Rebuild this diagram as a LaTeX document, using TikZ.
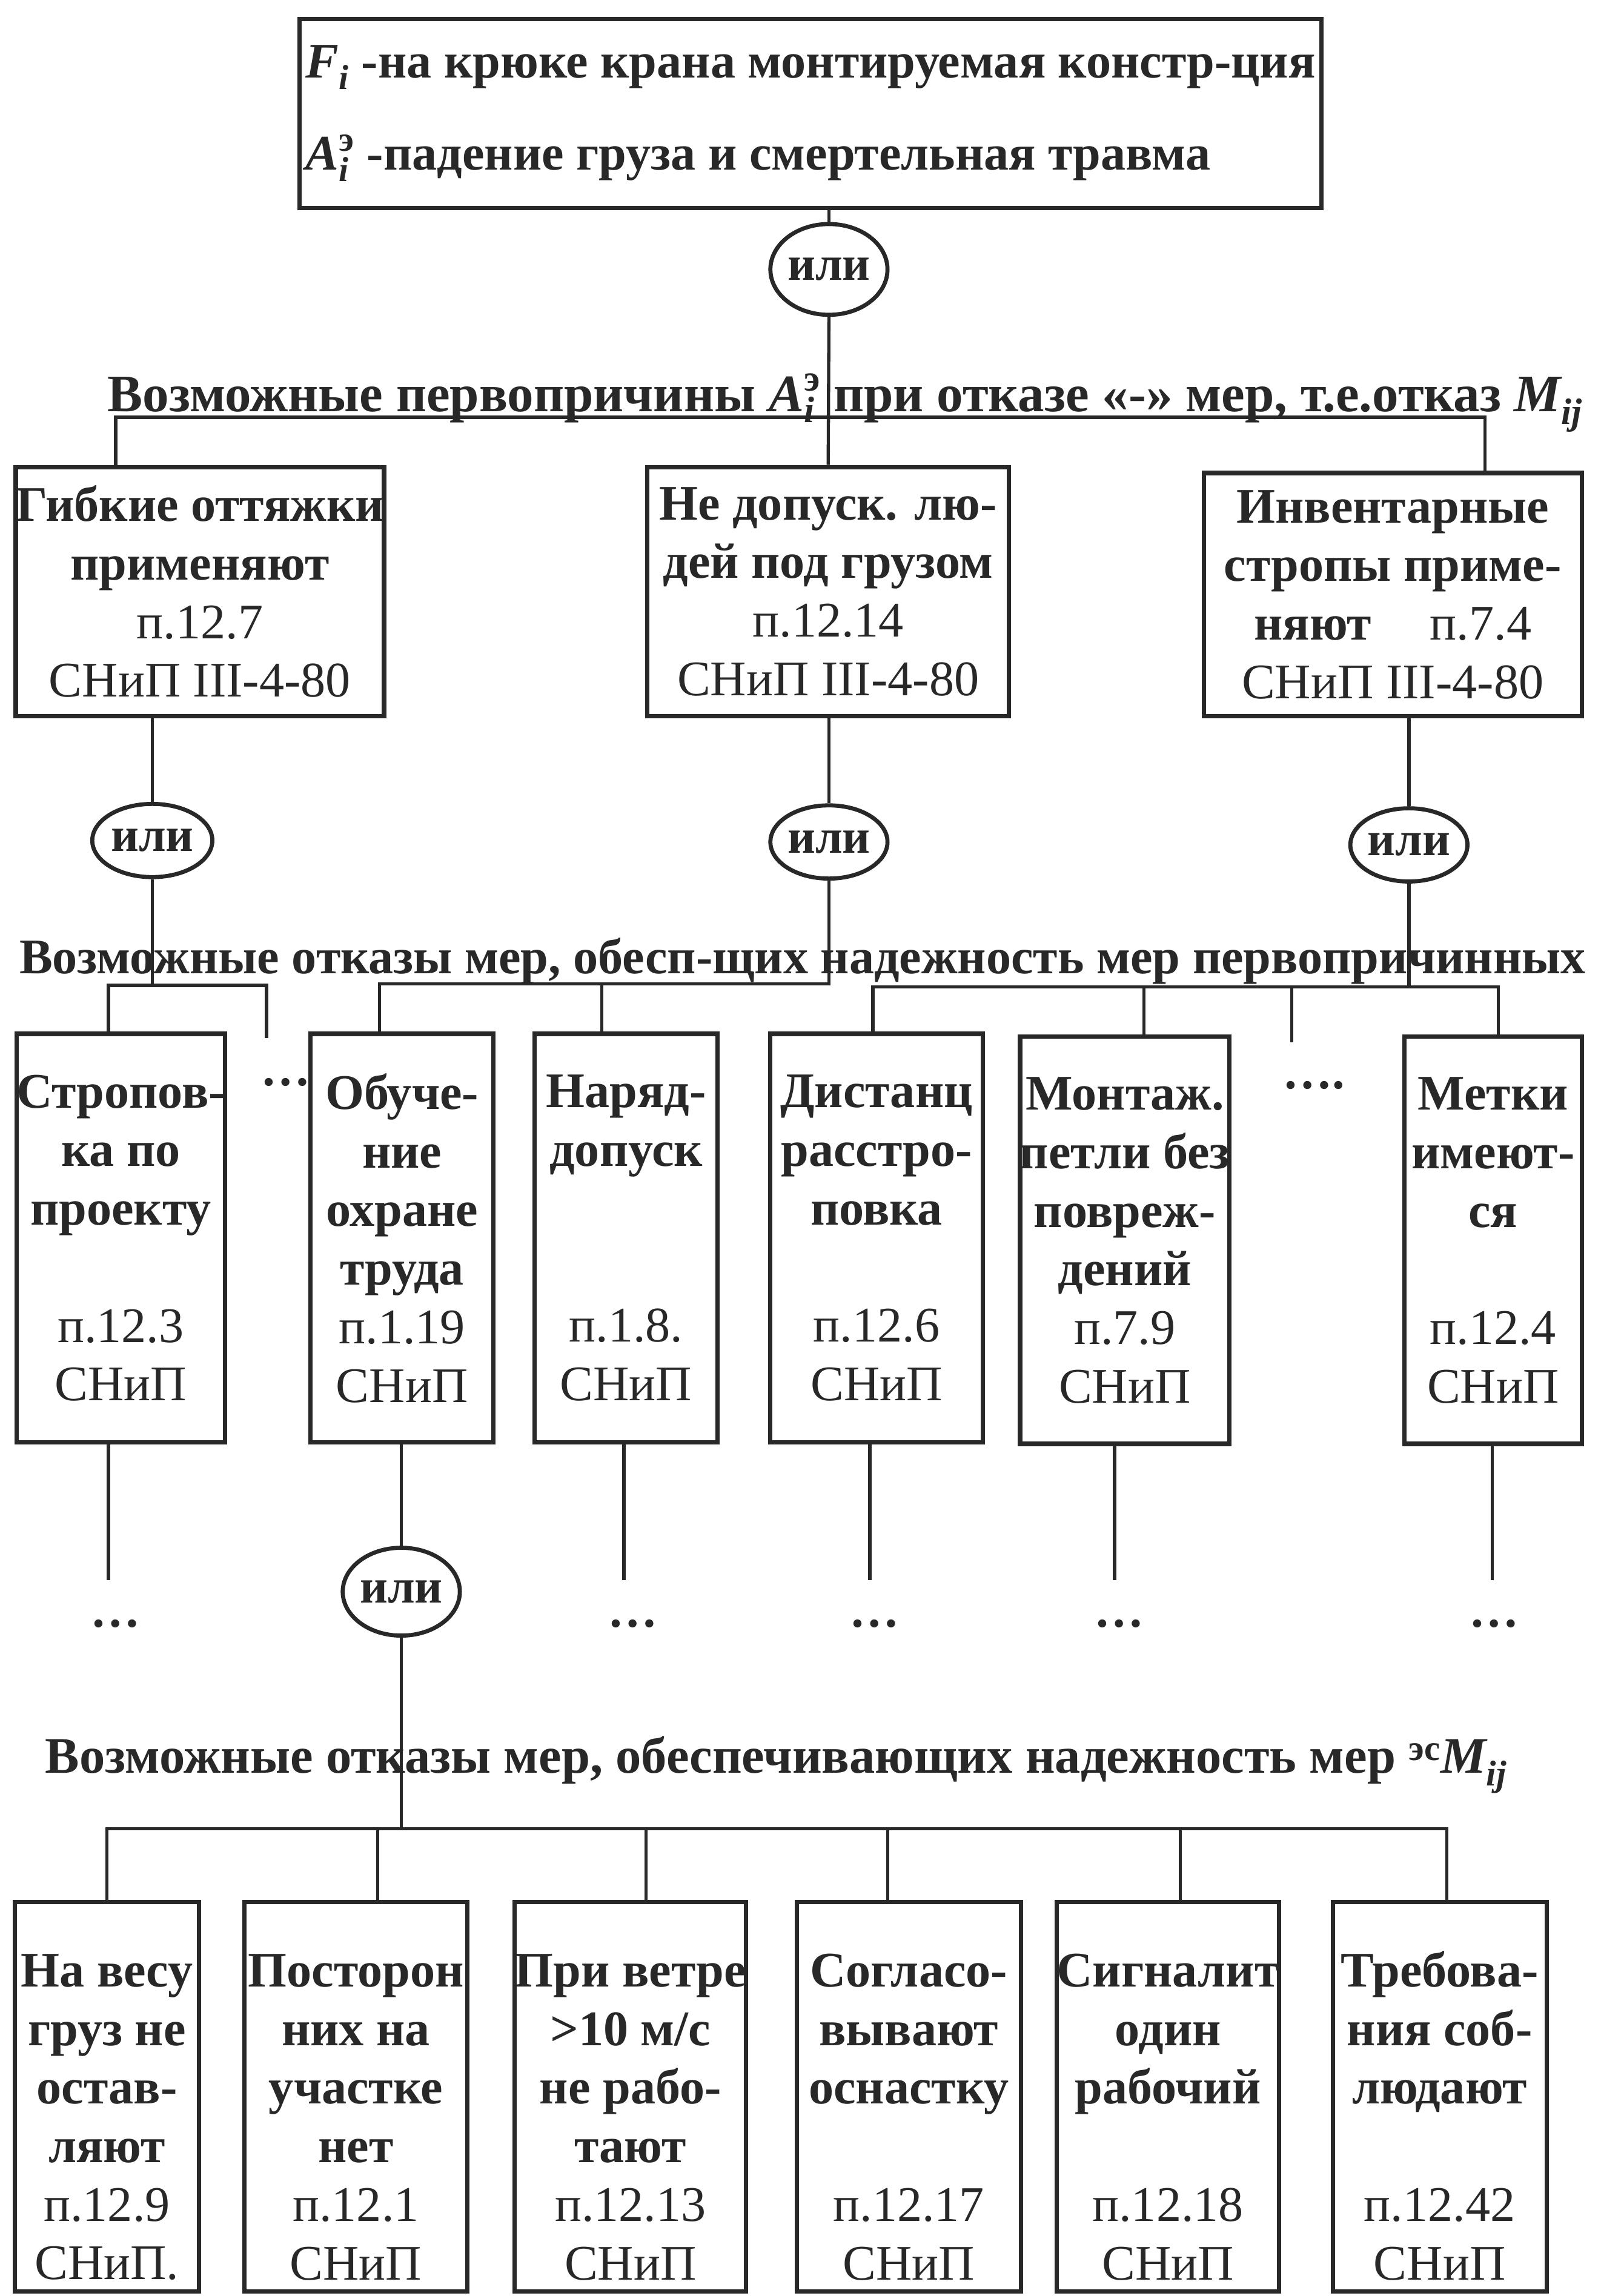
\documentclass[tikz,border=0pt]{standalone}
\usepackage{fontspec}
\usepackage{amsmath}
\setmainfont{Liberation Serif}
\usetikzlibrary{shapes.geometric}

\definecolor{ink}{RGB}{40,40,40}
\newcommand{\refl}[1]{\textmd{#1}}
\newcommand{\Aie}{$\textit{A}_{\textit{i}}^{\text{э}}$}
\newcommand{\Mij}{$\textit{M}_{\textit{ij}}$}
\newcommand{\lowstrut}{\rule{0pt}{50pt}}

\tikzset{every picture/.style={line width=2.2pt}}
\tikzset{
  bx/.style={draw=ink, line width=3pt, text=ink, align=center, inner xsep=0pt, inner ysep=2pt, font=\fontsize{34}{40}\selectfont\bfseries},
  orgate/.style={ellipse, draw=ink, line width=2.8pt, text=ink, inner sep=0pt, font=\fontsize{33}{40}\selectfont\bfseries},
  headtext/.style={text=ink, anchor=base, inner sep=0pt, font=\fontsize{34}{40}\selectfont\bfseries},
  dotstext/.style={text=ink, inner sep=0pt, font=\fontsize{34}{40}\selectfont\bfseries},
  conn/.style={draw=ink, line width=2.2pt}
}

\begin{document}
\begin{tikzpicture}[x=1pt,y=1pt,yscale=-1]
\useasboundingbox[fill=white] (0,0) rectangle (1093,1568);

%Shape: Rectangle
\node[bx, align=left, inner xsep=4pt, minimum width=691pt, minimum height=129pt] (top) at (553.5,77.5) {$\textit{F}_{\textit{i}}$ -на крюке крана монтируемая констр-ция\\[23pt]\Aie{} -падение груза и смертельная травма};

%Flowchart: Or
\node[orgate, minimum width=78pt, minimum height=62pt] (or0) at (566,184) {или};

% Text Node
\node[headtext, font=\fontsize{36}{40}\selectfont\bfseries] (hd1) at (577,281) {Возможные первопричины \Aie{} при отказе «-» мер, т.е.отказ \Mij};

%Shape: Rectangle
\node[bx, minimum width=249pt, minimum height=170pt] (b1) at (136.5,404) {Гибкие оттяжки\\применяют\\\refl{п.12.7}\\\refl{СНиП III-4-80}};
\node[bx, minimum width=247pt, minimum height=170pt] (b2) at (565.5,404) {Не допуск. лю-\\дей под грузом\\\refl{п.12.14}\\\refl{СНиП III-4-80}};
\node[bx, minimum width=258pt, minimum height=166pt] (b3) at (951,406) {Инвентарные\\стропы приме-\\няют\hspace{40pt}\refl{п.7.4}\\\refl{СНиП III-4-80}};

%Flowchart: Or
\node[orgate, minimum width=82pt, minimum height=50pt] (or1) at (104,574) {или};
\node[orgate, minimum width=76pt, minimum height=50pt] (or2) at (566,575) {или};
\node[orgate, minimum width=76pt, minimum height=50pt] (or3) at (962,577) {или};

% Text Node
\node[headtext] (hd2) at (548,665) {Возможные отказы мер, обесп-щих надежность мер первопричинных};

%Shape: Rectangle
\node[bx, minimum width=141pt, minimum height=279pt] (c1) at (82.5,845.5) {Стропов-\\ка по\\проекту\\[40pt]\refl{п.12.3}\\\refl{СНиП}};
\node[bx, minimum width=125pt, minimum height=279pt] (c2) at (274.5,845.5) {Обуче-\\ние\\охране\\труда\\\refl{п.1.19}\\\refl{СНиП}};
\node[bx, minimum width=125pt, minimum height=279pt] (c3) at (427.5,845.5) {Наряд-\\допуск\\[80pt]\refl{п.1.8.}\\\refl{СНиП}};
\node[bx, minimum width=145pt, minimum height=279pt] (c4) at (598.5,845.5) {Дистанц\\расстро-\\повка\\[40pt]\refl{п.12.6}\\\refl{СНиП}};
\node[bx, minimum width=142pt, minimum height=278pt] (c5) at (768,847) {Монтаж.\\петли без\\повреж-\\дений\\\refl{п.7.9}\\\refl{СНиП}};
\node[bx, minimum width=121pt, minimum height=278pt] (c6) at (1019.5,847) {Метки\\имеют-\\ся\\[40pt]\refl{п.12.4}\\\refl{СНиП}};

% Text Node
\node[dotstext] (dt0) at (195,739) {…};
\node[dotstext] (dt1) at (897,741) {….};
\node[dotstext] (dt2) at (79,1109) {…};
\node[dotstext] (dt3) at (432,1109) {…};
\node[dotstext] (dt4) at (597,1109) {…};
\node[dotstext] (dt5) at (764,1109) {…};
\node[dotstext] (dt6) at (1020,1109) {…};

%Flowchart: Or
\node[orgate, minimum width=79pt, minimum height=60pt] (or4) at (274,1087) {или};

% Text Node
\node[headtext, font=\fontsize{35}{40}\selectfont\bfseries] (hd3) at (530,1211) {Возможные отказы мер, обеспечивающих надежность мер ${}^{\text{эс}}$\Mij};

%Shape: Rectangle
\node[bx, minimum width=126pt, minimum height=266pt] (f1) at (73,1432) {\lowstrut На весу\\груз не\\остав-\\ляют\\\refl{п.12.9}\\\refl{СНиП.}};
\node[bx, minimum width=152pt, minimum height=266pt] (f2) at (243,1432) {\lowstrut Посторон\\них на\\участке\\нет\\\refl{п.12.1}\\\refl{СНиП}};
\node[bx, minimum width=157pt, minimum height=266pt] (f3) at (430.5,1432) {\lowstrut При ветре\\>10 м/с\\не рабо-\\тают\\\refl{п.12.13}\\\refl{СНиП}};
\node[bx, minimum width=153pt, minimum height=266pt] (f4) at (620.5,1432) {\lowstrut Согласо-\\вывают\\оснастку\\[40pt]\refl{п.12.17}\\\refl{СНиП}};
\node[bx, minimum width=141pt, minimum height=266pt] (f5) at (797.5,1432) {\lowstrut Сигналит\\один\\рабочий\\[40pt]\refl{п.12.18}\\\refl{СНиП}};
\node[bx, minimum width=146pt, minimum height=266pt] (f6) at (983,1432) {\lowstrut Требова-\\ния соб-\\людают\\[40pt]\refl{п.12.42}\\\refl{СНиП}};

%Junctions
\coordinate (j0w) at (79,285);
\coordinate (j0e) at (1014,285);
\coordinate (j1w) at (74,673);
\coordinate (j1e) at (182,673);
\coordinate (s1) at (182,709);
\coordinate (j2w) at (259,672);
\coordinate (j2b) at (411,672);
\coordinate (j3w) at (596,674);
\coordinate (j3b) at (781,674);
\coordinate (j3c) at (882,674);
\coordinate (s2) at (882,712);
\coordinate (j3e) at (1023,674);
\coordinate (e1) at (74,1079);
\coordinate (e3) at (426,1079);
\coordinate (e4) at (594,1079);
\coordinate (e5) at (761,1079);
\coordinate (e6) at (1019,1079);
\coordinate (j4w) at (73,1249);
\coordinate (j4e) at (988,1249);

%Straight Lines
\draw[conn] (top.south -| or0) -- (or0.north);
\draw[conn] (or0.south) -- (b2.north);
\draw[conn] (j0w |- b1.north) -- (j0w) -- (j0e) -- (j0e |- b3.north);

\draw[conn] (b1.south -| or1) -- (or1.north);
\draw[conn] (b2.south -| or2) -- (or2.north);
\draw[conn] (b3.south -| or3) -- (or3.north);

\draw[conn] (or1.south) -- (or1.south |- j1w);
\draw[conn] (j1w |- c1.north) -- (j1w) -- (j1e) -- (s1);
\draw[conn] (or2.south) -- (or2.south |- j2w) -- (j2w) -- (j2w |- c2.north);
\draw[conn] (j2b) -- (j2b |- c3.north);
\draw[conn] (or3.south) -- (or3.south |- j3e);
\draw[conn] (j3w |- c4.north) -- (j3w) -- (j3e) -- (j3e |- c6.north);
\draw[conn] (j3b) -- (j3b |- c5.north);
\draw[conn] (j3c) -- (s2);

\draw[conn] (c1.south -| e1) -- (e1);
\draw[conn] (c3.south -| e3) -- (e3);
\draw[conn] (c4.south -| e4) -- (e4);
\draw[conn] (c5.south -| e5) -- (e5);
\draw[conn] (c6.south -| e6) -- (e6);
\draw[conn] (c2.south -| or4) -- (or4.north);

\draw[conn] (or4.south) -- (or4.south |- j4w);
\draw[conn] (j4w |- f1.north) -- (j4w) -- (j4e) -- (j4e |- f6.north);
\draw[conn] (f2.north -| 258,0) -- (258,1249);
\draw[conn] (f3.north -| 441,0) -- (441,1249);
\draw[conn] (f4.north -| 606,0) -- (606,1249);
\draw[conn] (f5.north -| 806,0) -- (806,1249);

\end{tikzpicture}
\end{document}
